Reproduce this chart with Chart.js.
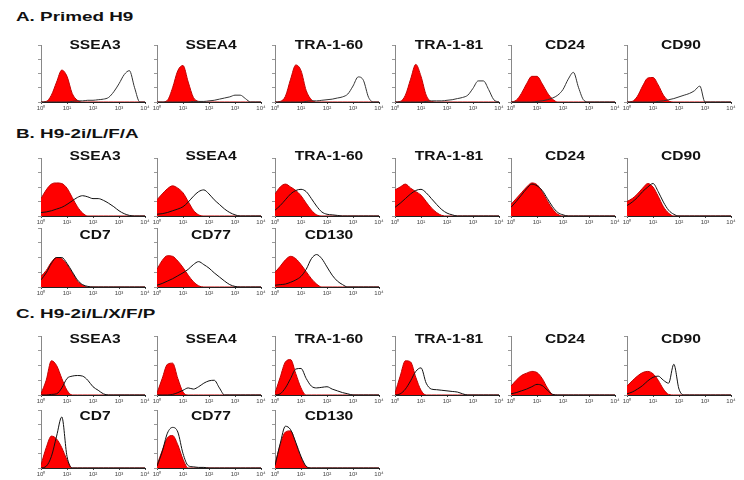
<!DOCTYPE html>
<html>
<head>
<meta charset="utf-8">
<script src="https://cdn.jsdelivr.net/npm/chart.js@4"></script>
<style>
  body { margin: 0; width: 744px; height: 480px; background: #fff; position: relative; overflow: hidden;
         font-family: "Liberation Sans", Arial, sans-serif; }
  .sec { position: absolute; font-weight: bold; font-size: 13px; line-height: 13px; color: #111;
         white-space: nowrap; transform-origin: 0 0; transform: scaleX(1.45); }
  .ttl { position: absolute; font-weight: bold; font-size: 12px; line-height: 12px; color: #111;
         white-space: nowrap; transform: translateX(-50%) scaleX(1.3); z-index: 2; }
  canvas { position: absolute; }
</style>
</head>
<body>
<script>
// histogram bins, log10 of fluorescence (10^0 .. 10^4)
const decades = [0, 0.2, 0.4, 0.6, 0.8, 1.0, 1.2, 1.4, 1.6, 1.8, 2.0, 2.2, 2.4, 2.6, 2.8, 3.0, 3.2, 3.4, 3.6, 3.8, 4.0];
const tickLabels = ['10⁰', '10¹', '10²', '10³', '10⁴'];
const sections = ['A. Primed H9', 'B. H9-2i/L/F/A', 'C. H9-2i/L/X/F/P'];
const markersTop = ['SSEA3', 'SSEA4', 'TRA-1-60', 'TRA-1-81', 'CD24', 'CD90'];
const markersBottom = ['CD7', 'CD77', 'CD130'];

// A. primed H9 (% of max height)
const primedIsotype = [
  [0, 1, 12, 35, 56, 45, 15, 3, 0, 0, 0, 0, 0, 0, 0, 0, 0, 0, 0, 0, 0],
  [0, 0, 3, 25, 55, 64, 35, 8, 1, 0, 0, 0, 0, 0, 0, 0, 0, 0, 0, 0, 0],
  [0, 1, 10, 40, 65, 55, 20, 4, 0, 0, 0, 0, 0, 0, 0, 0, 0, 0, 0, 0, 0],
  [0, 1, 12, 40, 66, 45, 12, 1, 0, 0, 0, 0, 0, 0, 0, 0, 0, 0, 0, 0, 0],
  [0, 3, 15, 32, 45, 45, 32, 16, 5, 0, 0, 0, 0, 0, 0, 0, 0, 0, 0, 0, 0],
  [0, 1, 10, 28, 42, 43, 30, 12, 2, 0, 0, 0, 0, 0, 0, 0, 0, 0, 0, 0, 0]
];
const primedStained = [
  [0, 0, 0, 0, 0, 0, 1, 2, 2, 3, 3, 4, 5, 8, 18, 32, 48, 55, 25, 0, 0],
  [0, 0, 0, 0, 0, 0, 0, 1, 1, 1, 2, 3, 5, 7, 9, 12, 12, 6, 0, 0, 0],
  [0, 0, 0, 0, 0, 0, 1, 2, 2, 3, 4, 5, 7, 9, 14, 28, 44, 38, 8, 0, 0],
  [0, 0, 0, 0, 0, 0, 1, 2, 2, 2, 3, 4, 6, 8, 12, 24, 37, 37, 22, 4, 0],
  [0, 0, 0, 0, 0, 1, 2, 4, 7, 12, 22, 40, 52, 25, 3, 0, 0, 0, 0, 0, 0],
  [0, 0, 0, 0, 0, 0, 1, 2, 4, 6, 9, 12, 15, 20, 28, 0, 0, 0, 0, 0, 0]
];

// B. H9-2i/L/F/A
const lfaIsotype = [
  [30, 45, 55, 57, 56, 48, 32, 16, 5, 0, 0, 0, 0, 0, 0, 0, 0, 0, 0, 0, 0],
  [28, 38, 47, 52, 48, 40, 25, 10, 2, 0, 0, 0, 0, 0, 0, 0, 0, 0, 0, 0, 0],
  [38, 50, 55, 50, 44, 35, 22, 10, 2, 0, 0, 0, 0, 0, 0, 0, 0, 0, 0, 0, 0],
  [45, 50, 55, 48, 42, 36, 25, 14, 6, 1, 0, 0, 0, 0, 0, 0, 0, 0, 0, 0, 0],
  [20, 30, 40, 50, 57, 54, 42, 26, 12, 3, 0, 0, 0, 0, 0, 0, 0, 0, 0, 0, 0],
  [25, 30, 38, 48, 56, 50, 34, 16, 5, 0, 0, 0, 0, 0, 0, 0, 0, 0, 0, 0, 0],
  [18, 28, 42, 50, 48, 38, 24, 10, 3, 0, 0, 0, 0, 0, 0, 0, 0, 0, 0, 0, 0],
  [30, 45, 53, 52, 44, 33, 20, 9, 2, 0, 0, 0, 0, 0, 0, 0, 0, 0, 0, 0, 0],
  [25, 35, 46, 52, 48, 38, 26, 14, 5, 0, 0, 0, 0, 0, 0, 0, 0, 0, 0, 0, 0]
];
const lfaStained = [
  [6, 7, 9, 12, 15, 20, 26, 32, 35, 33, 30, 30, 27, 22, 16, 9, 4, 1, 0, 0, 0],
  [3, 4, 6, 9, 12, 16, 24, 34, 42, 45, 38, 28, 20, 12, 6, 2, 0, 0, 0, 0, 0],
  [10, 18, 28, 38, 44, 46, 42, 30, 17, 7, 3, 2, 1, 0, 0, 0, 0, 0, 0, 0, 0],
  [15, 22, 30, 38, 44, 46, 40, 30, 20, 11, 5, 2, 0, 0, 0, 0, 0, 0, 0, 0, 0],
  [15, 25, 36, 47, 55, 52, 44, 30, 16, 6, 2, 0, 0, 0, 0, 0, 0, 0, 0, 0, 0],
  [18, 24, 32, 42, 50, 56, 42, 24, 10, 3, 0, 0, 0, 0, 0, 0, 0, 0, 0, 0, 0],
  [12, 24, 40, 50, 50, 40, 26, 12, 4, 1, 0, 0, 0, 0, 0, 0, 0, 0, 0, 0, 0],
  [3, 6, 10, 14, 19, 24, 30, 38, 43, 38, 32, 24, 17, 10, 4, 1, 0, 0, 0, 0, 0],
  [3, 4, 5, 8, 12, 18, 30, 48, 55, 48, 34, 20, 10, 4, 0, 0, 0, 0, 0, 0, 0]
];

// C. H9-2i/L/X/F/P
const lxfpIsotype = [
  [2, 25, 58, 50, 28, 8, 0, 0, 0, 0, 0, 0, 0, 0, 0, 0, 0, 0, 0, 0, 0],
  [3, 28, 52, 54, 28, 5, 0, 0, 0, 0, 0, 0, 0, 0, 0, 0, 0, 0, 0, 0, 0],
  [3, 30, 56, 60, 36, 12, 0, 0, 0, 0, 0, 0, 0, 0, 0, 0, 0, 0, 0, 0, 0],
  [3, 32, 58, 56, 30, 8, 0, 0, 0, 0, 0, 0, 0, 0, 0, 0, 0, 0, 0, 0, 0],
  [15, 25, 33, 37, 40, 38, 28, 12, 1, 0, 0, 0, 0, 0, 0, 0, 0, 0, 0, 0, 0],
  [15, 24, 32, 38, 40, 36, 25, 10, 1, 0, 0, 0, 0, 0, 0, 0, 0, 0, 0, 0, 0],
  [5, 35, 55, 50, 35, 14, 0, 0, 0, 0, 0, 0, 0, 0, 0, 0, 0, 0, 0, 0, 0],
  [5, 30, 52, 56, 40, 15, 0, 0, 0, 0, 0, 0, 0, 0, 0, 0, 0, 0, 0, 0, 0],
  [6, 40, 62, 64, 42, 18, 2, 0, 0, 0, 0, 0, 0, 0, 0, 0, 0, 0, 0, 0, 0]
];
const lxfpStained = [
  [0, 0, 1, 2, 12, 28, 32, 33, 32, 25, 14, 8, 2, 0, 0, 0, 0, 0, 0, 0, 0],
  [0, 0, 0, 1, 4, 8, 12, 10, 14, 20, 24, 25, 12, 0, 0, 0, 0, 0, 0, 0, 0],
  [0, 2, 12, 28, 44, 45, 28, 15, 12, 13, 14, 10, 7, 4, 2, 0, 0, 0, 0, 0, 0],
  [0, 2, 10, 24, 40, 46, 20, 10, 9, 8, 7, 6, 5, 2, 0, 0, 0, 0, 0, 0, 0],
  [2, 4, 7, 10, 14, 18, 16, 8, 1, 0, 0, 0, 0, 0, 0, 0, 0, 0, 0, 0, 0],
  [2, 5, 10, 16, 24, 30, 32, 25, 20, 52, 10, 0, 0, 0, 0, 0, 0, 0, 0, 0, 0],
  [0, 3, 20, 55, 88, 20, 0, 0, 0, 0, 0, 0, 0, 0, 0, 0, 0, 0, 0, 0, 0],
  [3, 28, 60, 70, 62, 25, 4, 2, 1, 1, 0, 0, 0, 0, 0, 0, 0, 0, 0, 0, 0],
  [4, 42, 72, 66, 44, 20, 3, 0, 0, 0, 0, 0, 0, 0, 0, 0, 0, 0, 0, 0, 0]
];

// panel placement
const colX = [41, 157, 275, 395, 511, 627];
const PLOT_W = 104;

function addText(cls, text, left, top) {
  const d = document.createElement('div');
  d.className = cls;
  d.textContent = text;
  d.style.left = left + 'px';
  d.style.top = top + 'px';
  document.body.appendChild(d);
}

function toPoints(arr) {
  return arr.map((v, i) => ({ x: decades[i], y: v }));
}

function panel(x, top, bottom, isotype, stained, lineColor) {
  const cv = document.createElement('canvas');
  const h = bottom - top;
  cv.width = PLOT_W + 16;
  cv.height = h + 12;
  cv.style.left = (x - 8) + 'px';
  cv.style.top = (top - 2) + 'px';
  document.body.appendChild(cv);

  new Chart(cv, {
    type: 'line',
    data: {
      datasets: [
        {
          data: toPoints(stained),
          borderColor: lineColor,
          borderWidth: 1,
          fill: false,
          pointRadius: 0,
          cubicInterpolationMode: 'monotone'
        },
        {
          data: toPoints(isotype),
          borderColor: '#c00000',
          backgroundColor: '#ff0000',
          borderWidth: 1,
          fill: 'origin',
          pointRadius: 0,
          cubicInterpolationMode: 'monotone'
        }
      ]
    },
    options: {
      responsive: false,
      animation: false,
      events: [],
      layout: { padding: { left: 0, right: 8, top: 2, bottom: 0 } },
      plugins: { legend: { display: false }, tooltip: { enabled: false } },
      scales: {
        x: {
          type: 'linear', min: 0, max: 4,
          afterFit(s) { s.height = 10; },
          afterBuildTicks(s) { s.ticks = [0, 1, 2, 3, 4].map(v => ({ value: v })); },
          ticks: {
            callback: (v) => tickLabels[v],
            font: { size: 6, family: 'Liberation Sans' },
            color: '#444', padding: 1, maxRotation: 0, autoSkip: false
          },
          grid: { drawOnChartArea: false, tickLength: 2, color: '#444' },
          border: { color: '#222', width: 1 }
        },
        y: {
          min: 0, max: 100,
          afterFit(s) { s.width = 8; },
          ticks: { display: false, stepSize: 25 },
          grid: { drawOnChartArea: false, tickLength: 3, color: '#999' },
          border: { color: '#888', width: 1 }
        }
      }
    }
  });
}

// section headings
addText('sec', sections[0], 16, 10);
addText('sec', sections[1], 16, 127);
addText('sec', sections[2], 16, 307);

// A
markersTop.forEach((m, i) => {
  panel(colX[i], 45, 102, primedIsotype[i], primedStained[i], '#333');
  addText('ttl', m, colX[i] + 54, 38.5);
});

// B
markersTop.forEach((m, i) => {
  panel(colX[i], 158, 216, lfaIsotype[i], lfaStained[i], '#111');
  addText('ttl', m, colX[i] + 54, 150);
});
markersBottom.forEach((m, i) => {
  panel(colX[i], 228, 287, lfaIsotype[i + 6], lfaStained[i + 6], '#111');
  addText('ttl', m, colX[i] + 54, 229);
});

// C
markersTop.forEach((m, i) => {
  panel(colX[i], 336, 395, lxfpIsotype[i], lxfpStained[i], '#111');
  addText('ttl', m, colX[i] + 54, 332.5);
});
markersBottom.forEach((m, i) => {
  panel(colX[i], 410, 468, lxfpIsotype[i + 6], lxfpStained[i + 6], '#111');
  addText('ttl', m, colX[i] + 54, 410);
});
</script>
</body>
</html>
